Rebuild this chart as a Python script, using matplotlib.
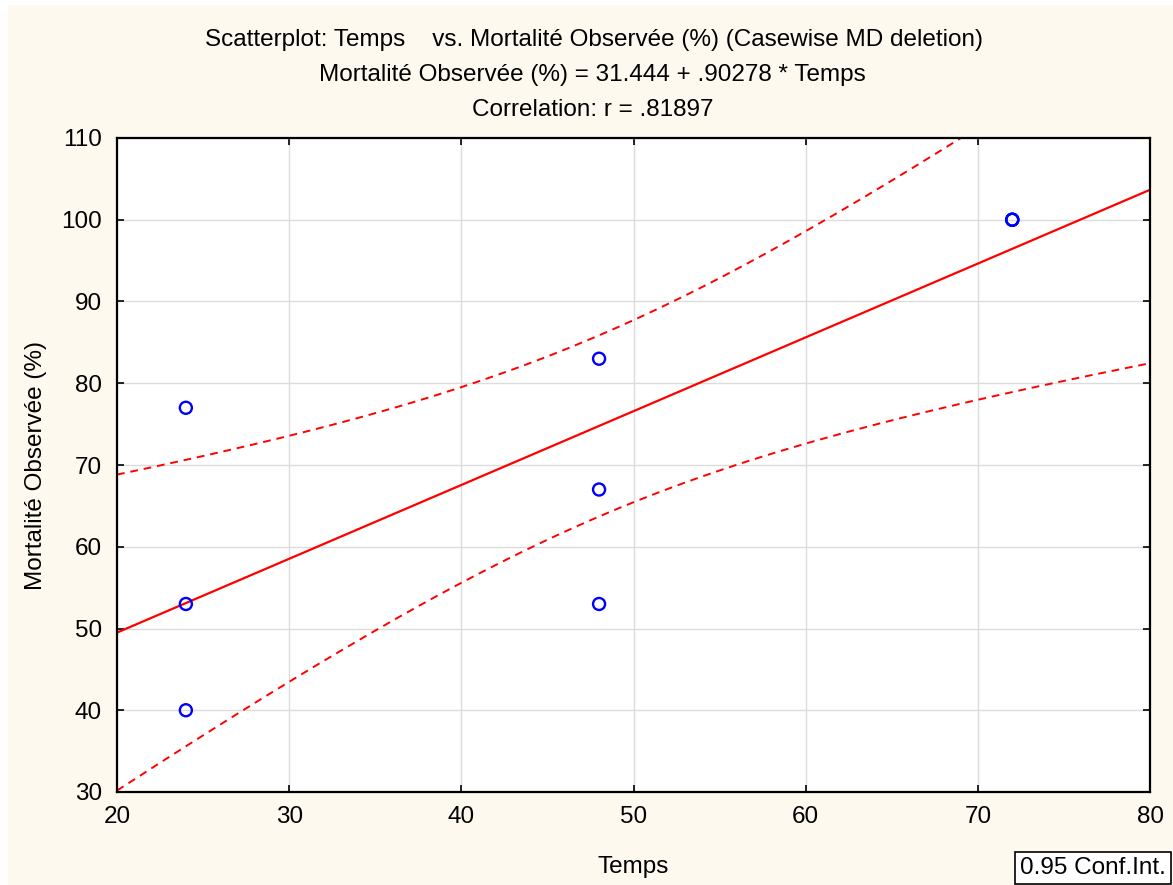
import numpy as np
import matplotlib.pyplot as plt
from matplotlib.patches import Rectangle

plt.rcParams['font.family'] = ['Liberation Sans', 'DejaVu Sans']

# observations (3 points overlap at 72, 100)
temps = [24, 24, 24, 48, 48, 48, 72, 72, 72]
mortalite = [77, 53, 40, 83, 67, 53, 100, 100, 100]
t_crit = 2.365  # t(0.975, df=7)

x = np.array(temps, dtype=float)
y = np.array(mortalite, dtype=float)
n = len(x)
b, a = np.polyfit(x, y, 1)
resid = y - (a + b * x)
s = np.sqrt((resid ** 2).sum() / (n - 2))
sxx = ((x - x.mean()) ** 2).sum()

xs = np.linspace(20, 80, 200)
fit = a + b * xs
half = t_crit * s * np.sqrt(1 / n + (xs - x.mean()) ** 2 / sxx)

fs = 17.5
bg = '#FDF9EE'
fig = plt.figure(figsize=(11.73, 8.85), dpi=100)
fig.patch.set_facecolor('white')
fig.patches.append(Rectangle((8 / 1173, 0), 1 - 8 / 1173, 1 - 5 / 885,
                             transform=fig.transFigure, facecolor=bg,
                             edgecolor='none', zorder=-10))

ax = fig.add_axes([117 / 1173, 93 / 885, 1033 / 1173, 654 / 885])
ax.set_facecolor('white')
ax.grid(True, color='#DCDCDC', lw=1)
ax.set_axisbelow(True)

ax.plot(xs, fit, color='#FF0000', lw=1.6)
ax.plot(xs, fit + half, color='#FF0000', lw=1.4, ls=(0, (4, 3)))
ax.plot(xs, fit - half, color='#FF0000', lw=1.4, ls=(0, (4, 3)))
ax.scatter(x, y, s=75, facecolors='none', edgecolors='#0000FF', lw=1.7, zorder=5)

ax.set_xlim(20, 80)
ax.set_ylim(30, 110)
ax.set_xticks(range(20, 81, 10))
ax.set_yticks(range(30, 111, 10))
ax.tick_params(direction='in', length=5, width=1.2, labelsize=fs,
               top=True, right=True, pad=10)
ax.tick_params(axis='y', pad=11)
for sp in ax.spines.values():
    sp.set_linewidth(1.6)

ax.set_xlabel('Temps', fontsize=fs, labelpad=20)
ax.set_ylabel('Mortalité Observée (%)', fontsize=fs, labelpad=10)

fig.text(0.506, 1 - 40 / 885, 'Scatterplot: Temps    vs. Mortalité Observée (%) (Casewise MD deletion)',
         ha='center', va='center', fontsize=fs)
fig.text(0.505, 1 - 75 / 885, 'Mortalité Observée (%) = 31.444 + .90278 * Temps',
         ha='center', va='center', fontsize=fs)
fig.text(0.505, 1 - 110 / 885, 'Correlation: r = .81897',
         ha='center', va='center', fontsize=fs)

fig.text(1093 / 1173, 1 - 868 / 885, '0.95 Conf.Int.', ha='center', va='center',
         fontsize=fs, bbox=dict(boxstyle='square,pad=0.22', facecolor='white',
                                edgecolor='black', lw=1.2))

fig.savefig('out.png', dpi=100, facecolor=fig.get_facecolor())
